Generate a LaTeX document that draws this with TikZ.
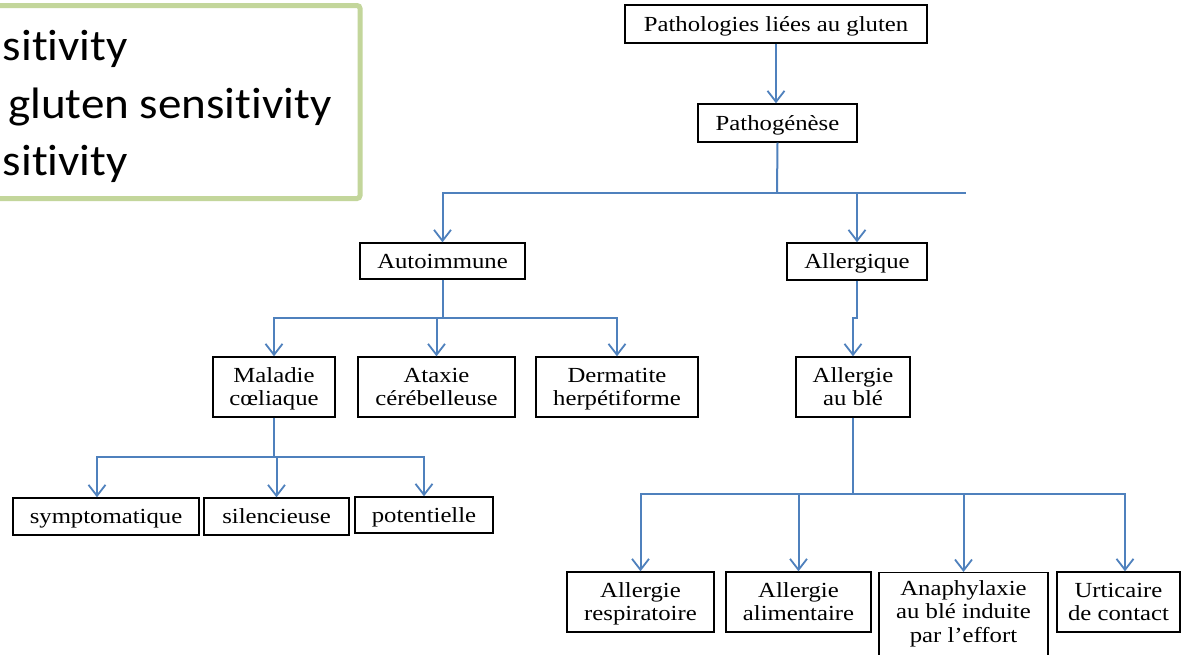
\documentclass[tikz,border=0pt]{standalone}
\usepackage{fontspec}
\setmainfont[FakeStretch=1.15]{Liberation Serif}
\newfontfamily\califont[FakeStretch=1.07,Ligatures=NoCommon]{Carlito}
\usetikzlibrary{arrows.meta}
\definecolor{lineblue}{RGB}{79,129,189}
\definecolor{boxgreen}{RGB}{195,214,155}
\newcommand\mytop{\rule{0pt}{19pt}}
\newcommand\mybot{\rule[-5pt]{0pt}{5pt}}
\begin{document}
\begin{tikzpicture}[x=1pt,y=-1pt,
  box/.style={draw=black, line width=1.4pt, inner sep=0pt, align=center,
    font=\fontsize{21.5}{23.5}\selectfont, fill=white},
  boxtext/.style={inner sep=0pt, align=center, font=\fontsize{21.5}{23.5}\selectfont},
  conn/.style={draw=lineblue, line width=2pt},
  arr/.style={conn, -{Straight Barb[length=11pt,width=17pt,line width=1.8pt]}},
  slide/.style={font=\califont\fontsize{44}{50}\selectfont, inner sep=0pt},
  greenframe/.style={draw=boxgreen, line width=5pt, rounded corners=3pt}]
\useasboundingbox (0,0) rectangle (1181,654);
\clip (0,0) rectangle (1181,654);
\fill[white] (0,0) rectangle (1181,654);

% slide text box (partly cut off at left)
\draw[greenframe] (-40,5.5) rectangle (360,198.5);
\node[slide, anchor=base east] (t1) at (128,60) {sitivity};
\node[slide, anchor=base west] (t2) at (8,118) {gluten sensitivity};
\node[slide, anchor=base east] (t3) at (128,175) {sitivity};

% tree nodes
\node[box, minimum width=302, minimum height=38] (P0) at (776,24) {\mytop Pathologies liées au gluten\mybot};
\node[box, minimum width=159, minimum height=38] (P1) at (777.5,123) {\mytop Pathogénèse\mybot};
\node[box, minimum width=165, minimum height=36] (A) at (442.5,261) {\mytop Autoimmune\mybot};
\node[box, minimum width=140, minimum height=37] (B) at (857,261.5) {\mytop Allergique\mybot};
\node[box, minimum width=122, minimum height=60] (M) at (274,387) {\mytop Maladie\\cœliaque\mybot};
\node[box, minimum width=157, minimum height=60] (X) at (436.5,387) {\mytop Ataxie\\cérébelleuse\mybot};
\node[box, minimum width=162, minimum height=60] (D) at (617,387) {\mytop Dermatite\\herpétiforme\mybot};
\node[box, minimum width=114, minimum height=60] (W) at (853,387) {\mytop Allergie\\au blé\mybot};
\node[box, minimum width=186, minimum height=37] (S1) at (106,516.5) {\mytop symptomatique\mybot};
\node[box, minimum width=145, minimum height=37] (S2) at (276.5,516.5) {\mytop silencieuse\mybot};
\node[box, minimum width=138, minimum height=36] (S3) at (424,515) {\mytop potentielle\mybot};
\node[box, minimum width=147, minimum height=60] (R1) at (640.5,602) {\mytop Allergie\\respiratoire\mybot};
\node[box, minimum width=145, minimum height=60] (R2) at (798.5,602) {\mytop Allergie\\alimentaire\mybot};
\node[box, minimum width=169, minimum height=100, anchor=north] (R3) at (963.5,572) {};
\node[boxtext, anchor=north] (R3t) at (963.5,576) {\mytop Anaphylaxie\\au blé induite\\par l’effort};
\node[box, minimum width=123, minimum height=60] (R4) at (1118.5,602) {\mytop Urticaire\\de contact\mybot};

% connectors
\draw[arr] (P0.south) -- (P0.south |- P1.north);
\coordinate (j1) at (777,193);
\coordinate (hR) at (966,193);
\draw[conn] (P1.south) -- (j1);
\draw[arr] (j1) -| (A.north);
\draw[arr] (j1) -| (B.north);
\draw[conn] (j1) -- (hR);

\coordinate (j2) at (442.5,318);
\draw[conn] (A.south) -- (j2);
\draw[arr] (j2) -| (M.north);
\draw[arr] (j2) -| (X.north);
\draw[arr] (j2) -| (D.north);

\coordinate (j3) at (274,457);
\coordinate (k1) at (97,457);
\draw[conn] (M.south) -- (j3);
\draw[arr] (j3) -- (k1) -- (k1 |- S1.north);
\draw[arr] (j3) -| (S2.north);
\draw[arr] (j3) -| (S3.north);

\coordinate (jog) at (853,318);
\draw[arr] (B.south) |- (jog) -- (W.north);

\coordinate (j4) at (853,494);
\coordinate (a4) at (1125,494);
\draw[conn] (W.south) -- (j4);
\draw[arr] (j4) -| (R1.north);
\draw[arr] (j4) -| (R2.north);
\draw[arr] (j4) -| (R3.north);
\draw[arr] (j4) -- (a4) -- (a4 |- R4.north);
\end{tikzpicture}
\end{document}
